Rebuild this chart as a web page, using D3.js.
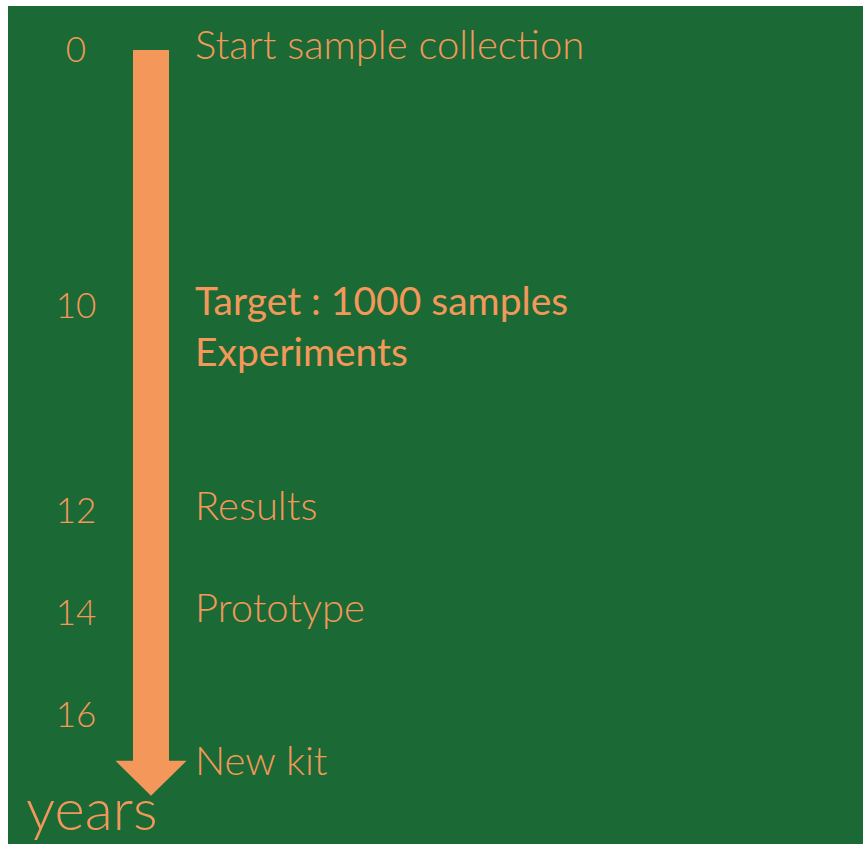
<!DOCTYPE html>
<html>
<head>
    <style>
        body { margin: 0; background: #fff; }
        text { font-family: Lato, "Open Sans", sans-serif; fill: #F3985A; }
        .tick-label { font-size: 35px; font-weight: 300; text-anchor: middle; }
        .event { font-size: 40px; font-weight: 300; }
        .event.strong { font-size: 39px; font-weight: 400; }
        .unit { font-size: 58px; font-weight: 300; }
    </style>
    <script src="https://d3js.org/d3.v7.min.js"></script>
</head>
<body>
    <svg width="863" height="844"></svg>
    <script>
        // years shown next to the arrow
        var tickYears = [0, 10, 12, 14, 16];
        var tickLabels = ["0", "10", "12", "14", "16"];

        // milestones (year, text, emphasis)
        var eventYears = [0, 10, 12, 14, 17];
        var eventTexts = [["Start sample collection"],
                          ["Target : 1000 samples", "Experiments"],
                          ["Results"], ["Prototype"], ["New kit"]];
        var eventStrong = [false, true, false, false, false];

        var arrowStart = 0, arrowEnd = 17.35;

        var svg = d3.select("svg"),
            width = +svg.attr("width"),
            height = +svg.attr("height");

        var green = "#1B6934",
            orange = "#F3985A";

        svg.append("rect")
           .attr("x", 8).attr("y", 6)
           .attr("width", width - 8).attr("height", height - 6)
           .attr("fill", green);

        // the timeline is not evenly spaced on the slide, so use a piecewise scale
        var y = d3.scaleLinear()
                  .domain(tickYears)
                  .range([62, 318, 523, 625, 727]);

        var axisX = 151, shaftW = 36, headW = 71, headL = 35;

        var arrowTop = y(arrowStart) - 12,
            arrowTip = y(arrowEnd);

        var arrow = d3.path();
        arrow.moveTo(axisX - shaftW / 2, arrowTop);
        arrow.lineTo(axisX + shaftW / 2, arrowTop);
        arrow.lineTo(axisX + shaftW / 2, arrowTip - headL);
        arrow.lineTo(axisX + headW / 2, arrowTip - headL);
        arrow.lineTo(axisX, arrowTip);
        arrow.lineTo(axisX - headW / 2, arrowTip - headL);
        arrow.lineTo(axisX - shaftW / 2, arrowTip - headL);
        arrow.closePath();

        svg.append("path")
           .attr("d", arrow.toString())
           .attr("fill", orange);

        svg.selectAll(".tick-label")
           .data(tickYears)
           .enter().append("text")
           .attr("class", "tick-label")
           .attr("x", 76)
           .attr("y", function(d) { return y(d); })
           .text(function(d, i) { return tickLabels[i]; });

        var ev = svg.selectAll(".event")
                    .data(eventYears)
                    .enter().append("text")
                    .attr("class", function(d, i) { return eventStrong[i] ? "event strong" : "event"; })
                    .attr("x", 195)
                    .attr("y", function(d) { return y(d) - 3; });

        ev.selectAll("tspan")
          .data(function(d, i) { return eventTexts[i]; })
          .enter().append("tspan")
          .attr("x", 195)
          .attr("dy", function(d, j) { return j === 0 ? 0 : 51; })
          .text(function(d) { return d; });

        svg.append("text")
           .attr("class", "unit")
           .attr("x", 26)
           .attr("y", 830)
           .text("years");
    </script>
</body>
</html>
